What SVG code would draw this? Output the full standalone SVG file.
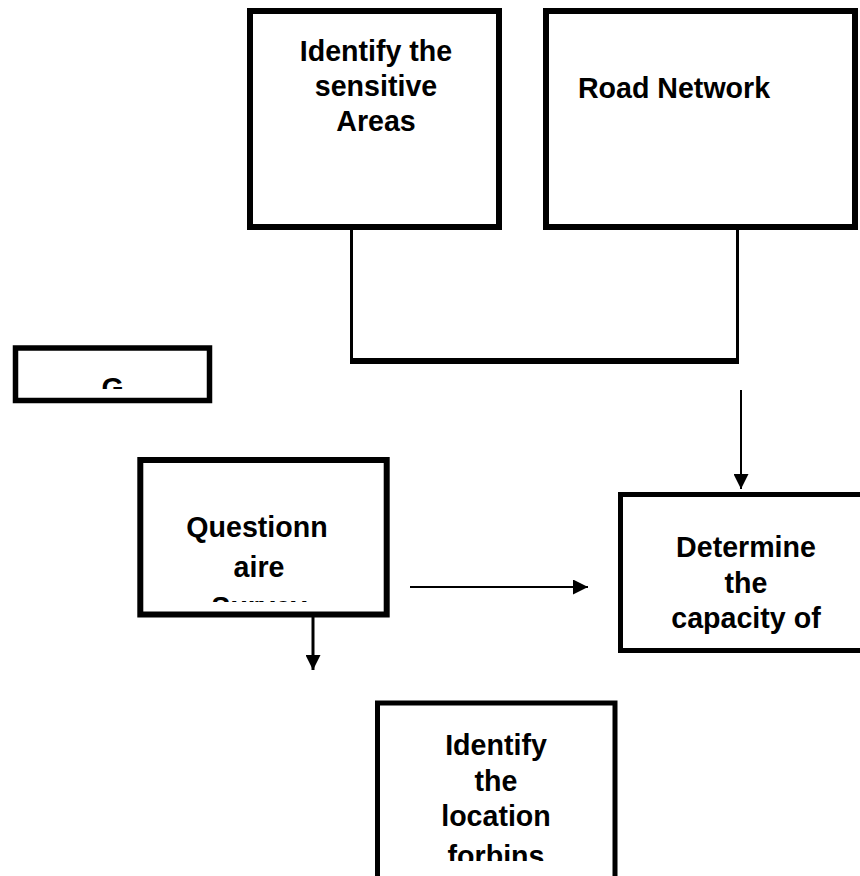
<svg xmlns="http://www.w3.org/2000/svg" width="860" height="876" viewBox="0 0 860 876">
<style>
.box{fill:#fff;stroke:#000}
.t{font-family:"Liberation Sans",Arial,sans-serif;font-weight:bold;font-size:28.6px;fill:#000;text-anchor:middle}
.ln{stroke:#000;fill:none}
</style>
<defs>
<marker id="ah" viewBox="0 0 10 10" refX="10" refY="5" markerWidth="15" markerHeight="15" markerUnits="userSpaceOnUse" orient="auto">
<path d="M0,0 L10,5 L0,10 Z" fill="#000"/>
</marker>
<clipPath id="cG"><rect x="18" y="351" width="189" height="38"/></clipPath>
<clipPath id="cQ"><rect x="143" y="463" width="241" height="139"/></clipPath>
<clipPath id="cD"><rect x="623" y="497" width="237" height="151"/></clipPath>
<clipPath id="cL"><rect x="380" y="706" width="232" height="155"/></clipPath>
</defs>
<g id="connectors">
<path class="ln" d="M351.5,227 V361" stroke-width="3"/>
<path class="ln" d="M737.5,227 V361" stroke-width="3"/>
<path class="ln" d="M350,361 H739" stroke-width="6"/>
<path class="ln" d="M741,390 V489" stroke-width="2" marker-end="url(#ah)"/>
<path class="ln" d="M410,587 H588" stroke-width="2" marker-end="url(#ah)"/>
<path class="ln" d="M313,617 V670" stroke-width="3" marker-end="url(#ah)"/>
</g>
<g id="sensitive">
<rect class="box" x="250" y="11" width="249" height="216" stroke-width="6"/>
<text class="t" x="376" y="61">Identify the</text>
<text class="t" x="376" y="96">sensitive</text>
<text class="t" x="376" y="131">Areas</text>
</g>
<g id="road">
<rect class="box" x="546" y="11" width="309" height="216" stroke-width="6"/>
<text class="t" x="674" y="98">Road Network</text>
</g>
<g id="g">
<rect class="box" x="15.5" y="348" width="194" height="52.5" stroke-width="5.5"/>
<text class="t" x="112.5" y="398" clip-path="url(#cG)">G</text>
</g>
<g id="questionnaire">
<rect class="box" x="140.3" y="460" width="246.4" height="154.5" stroke-width="6"/>
<g clip-path="url(#cQ)">
<text class="t" x="257" y="537">Questionn</text>
<text class="t" x="259" y="577">aire</text>
<text class="t" x="259" y="617">Survey</text>
</g>
</g>
<g id="determine">
<rect class="box" x="620.5" y="494.5" width="250" height="156" stroke-width="5"/>
<g clip-path="url(#cD)">
<text class="t" x="746" y="557">Determine</text>
<text class="t" x="746" y="592.5">the</text>
<text class="t" x="746" y="628">capacity of</text>
</g>
</g>
<g id="location">
<rect class="box" x="377.5" y="703" width="237.5" height="190" stroke-width="5"/>
<g clip-path="url(#cL)">
<text class="t" x="496" y="755">Identify</text>
<text class="t" x="496" y="790.5">the</text>
<text class="t" x="496" y="826">location</text>
<text class="t" x="496" y="866">forbins</text>
</g>
</g>
</svg>
